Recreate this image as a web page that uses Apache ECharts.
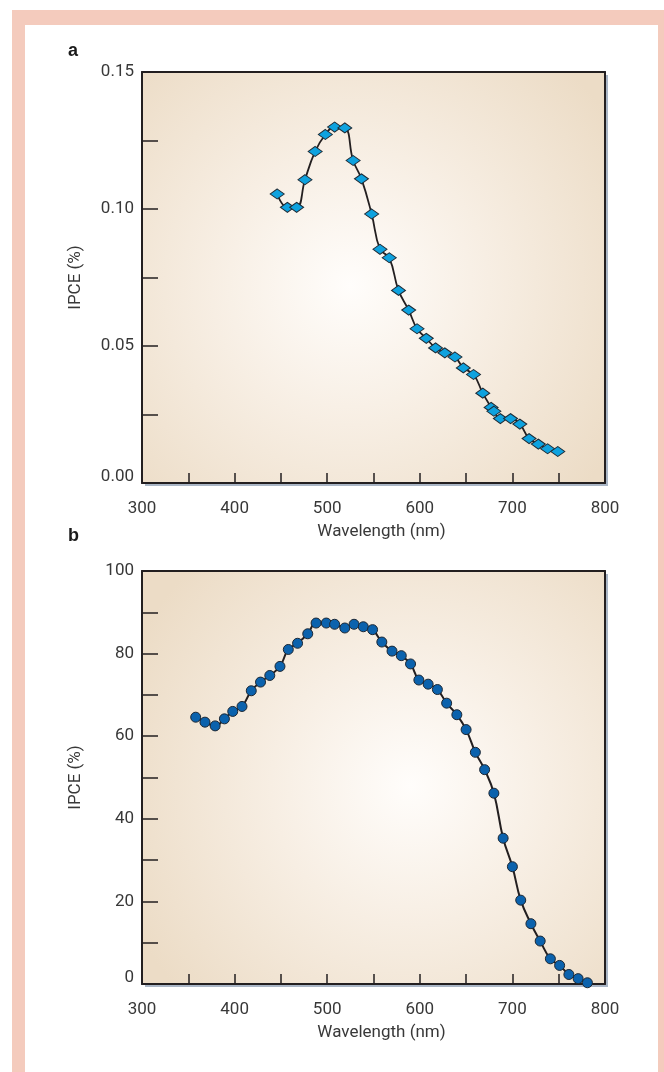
<!DOCTYPE html>
<html>
<head>
<meta charset="utf-8">
<script src="https://cdn.jsdelivr.net/npm/echarts@6/dist/echarts.min.js"></script>
<style>
  html, body {
    margin: 0;
    padding: 0;
    background: #fff;
    overflow: hidden;
  }
  .page {
    position: relative;
    width: 664px;
    height: 1072px;
    overflow: hidden;
    background: #fff;
  }
  /* pink frame round the figure */
  .frame {
    position: absolute;
    left: 12px;
    top: 10px;
    width: 660px;
    height: 1120px;
    box-sizing: border-box;
    border-left: 13px solid #f4cbbd;
    border-top: 15px solid #f4cbbd;
    border-right: 14px solid #f4cbbd;
    background: #fff;
  }
  #chart {
    position: absolute;
    left: 0;
    top: 0;
    width: 664px;
    height: 1072px;
  }
</style>
</head>
<body>
<div class="page">
  <div class="frame"></div>
  <div id="chart"></div>
</div>
<script>
  // panel a: IPCE of the diamonds (%)
  var aWavelength = [446, 457, 467, 476, 487, 498, 508, 519, 528, 537, 548, 557, 567, 577, 588, 597,
    607, 617, 627, 638, 647, 658, 668, 677, 680, 687, 698, 708, 718, 728, 738, 749];
  var aIpce = [0.1055, 0.1006, 0.1006, 0.1107, 0.121, 0.1272, 0.1299, 0.1296, 0.1177, 0.111, 0.0982,
    0.0853, 0.0822, 0.0703, 0.0631, 0.0563, 0.0528, 0.0493, 0.0475, 0.046, 0.042, 0.0396, 0.0328,
    0.0276, 0.0262, 0.0235, 0.0235, 0.0215, 0.0162, 0.0142, 0.0125, 0.0115];

  // panel b: IPCE of the circles (%)
  var bWavelength = [358, 368, 379, 389, 398, 408, 418, 428, 438, 449, 458, 468, 479, 488, 499, 508,
    519, 529, 539, 549, 559, 570, 580, 590, 599, 609, 619, 629, 640, 650, 660, 670, 680, 690, 700,
    709, 720, 730, 741, 751, 761, 771, 781];
  var bIpce = [64.6, 63.4, 62.5, 64.2, 66.0, 67.2, 71.0, 73.1, 74.7, 76.9, 81.0, 82.5, 84.8, 87.4,
    87.4, 87.1, 86.2, 87.1, 86.5, 85.8, 82.8, 80.6, 79.5, 77.5, 73.6, 72.6, 71.3, 68.0, 65.2, 61.6,
    56.1, 51.9, 46.2, 35.3, 28.4, 20.3, 14.6, 10.4, 6.1, 4.5, 2.3, 1.3, 0.3];

  var panelLabels = ['a', 'b'];
  var xName = 'Wavelength (nm)';
  var yName = 'IPCE (%)';

  var ink = '#231f20';
  var textColor = '#383838';
  var font = 'Roboto';

  function zip(xs, ys) {
    return xs.map(function (x, i) { return [x, ys[i]]; });
  }

  function paper(cx, cy) {
    return new echarts.graphic.RadialGradient(cx, cy, 0.75, [
      { offset: 0, color: '#fffdfb' },
      { offset: 0.45, color: '#f7eee3' },
      { offset: 1, color: '#ecdcc6' }
    ]);
  }

  // no border stroke here, so the drop shadow only falls right/below;
  // the box itself is drawn by the four axis lines
  function grid(top, height, bg) {
    return {
      show: true,
      left: 142,
      top: top,
      width: 463,
      height: height,
      backgroundColor: bg,
      borderWidth: 0,
      shadowColor: '#aab6c6',
      shadowOffsetX: 3,
      shadowOffsetY: 3,
      shadowBlur: 0
    };
  }

  function xAxis(idx) {
    return {
      type: 'value',
      gridIndex: idx,
      position: 'bottom',
      min: 300,
      max: 800,
      interval: 100,
      name: xName,
      nameLocation: 'middle',
      nameGap: 40,
      nameTextStyle: { color: textColor, fontFamily: font, fontSize: 17, padding: [0, 0, 0, 16] },
      axisLine: { show: true, lineStyle: { color: ink, width: 2 } },
      axisTick: { show: true, inside: true, length: 10, lineStyle: { color: ink, width: 1.5 } },
      minorTick: { show: true, splitNumber: 2, length: 10, lineStyle: { color: ink, width: 1.5 } },
      splitLine: { show: false },
      axisLabel: { color: textColor, fontFamily: font, fontSize: 17, margin: 17 }
    };
  }

  function yAxis(idx, max, interval, digits) {
    return {
      type: 'value',
      gridIndex: idx,
      position: 'left',
      min: 0,
      max: max,
      interval: interval,
      name: yName,
      nameLocation: 'middle',
      nameGap: 58,
      nameTextStyle: { color: textColor, fontFamily: font, fontSize: 17 },
      axisLine: { show: true, lineStyle: { color: ink, width: 2 } },
      axisTick: { show: true, inside: true, length: 16, lineStyle: { color: ink, width: 1.5 } },
      minorTick: { show: true, splitNumber: 2, length: 16, lineStyle: { color: ink, width: 1.5 } },
      splitLine: { show: false },
      axisLabel: {
        color: textColor,
        fontFamily: font,
        fontSize: 17,
        margin: 8,
        formatter: function (v) {
          var s = v.toFixed(digits);
          // the zero label sits a little above its tick
          return v === 0 ? '{lo|' + s + '}' : s;
        },
        rich: {
          lo: { color: textColor, fontFamily: font, fontSize: 17, padding: [0, 0, 12, 0] }
        }
      }
    };
  }

  // plain top / right edges of the box
  function edge(kind, idx, pos) {
    return {
      type: kind,
      gridIndex: idx,
      position: pos,
      axisLine: { show: true, onZero: false, lineStyle: { color: ink, width: 2 } },
      axisTick: { show: false },
      axisLabel: { show: false },
      splitLine: { show: false }
    };
  }

  var option = {
    animation: false,
    title: [{
      text: panelLabels[0],
      left: 68,
      top: 42,
      padding: 0,
      textStyle: { color: '#1a1a1a', fontFamily: 'Liberation Sans', fontWeight: 'bold', fontSize: 18 }
    }, {
      text: panelLabels[1],
      left: 68,
      top: 527,
      padding: 0,
      textStyle: { color: '#1a1a1a', fontFamily: 'Liberation Sans', fontWeight: 'bold', fontSize: 18 }
    }],
    grid: [
      grid(72, 411, paper(0.45, 0.52)),
      grid(571, 413, paper(0.58, 0.52))
    ],
    xAxis: [xAxis(0), xAxis(1), edge('value', 0, 'top'), edge('value', 1, 'top')],
    yAxis: [yAxis(0, 0.15, 0.05, 2), yAxis(1, 100, 20, 0), edge('value', 0, 'right'), edge('value', 1, 'right')],
    series: [{
      type: 'line',
      xAxisIndex: 0,
      yAxisIndex: 0,
      data: zip(aWavelength, aIpce),
      smooth: 0.45,
      symbol: 'diamond',
      symbolSize: [14, 10],
      lineStyle: { color: ink, width: 1.8 },
      itemStyle: { color: '#0ea2df', borderColor: '#1f2b35', borderWidth: 1 }
    }, {
      type: 'line',
      xAxisIndex: 1,
      yAxisIndex: 1,
      data: zip(bWavelength, bIpce),
      smooth: 0.45,
      symbol: 'circle',
      symbolSize: 10,
      lineStyle: { color: ink, width: 2 },
      itemStyle: { color: '#0b62ad', borderColor: '#1c2733', borderWidth: 1 }
    }]
  };

  var chart = echarts.init(document.getElementById('chart'), null, { renderer: 'canvas' });
  chart.setOption(option);
</script>
</body>
</html>
